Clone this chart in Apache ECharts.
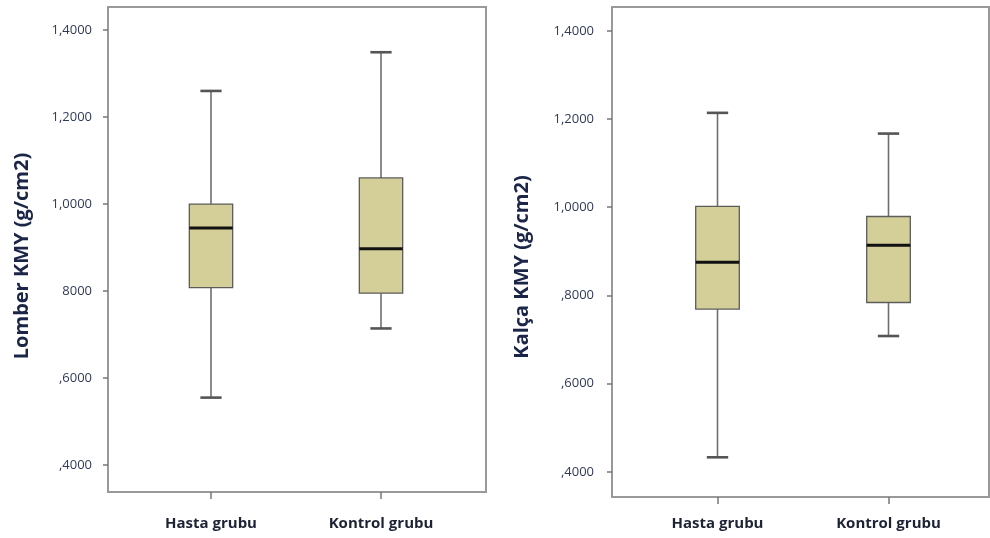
<!DOCTYPE html>
<html>
<head>
<meta charset="utf-8">
<script src="https://cdn.jsdelivr.net/npm/echarts@6/dist/echarts.min.js"></script>
<style>html,body{margin:0;padding:0;background:#fff;}#c{width:990px;height:538px;}</style>
</head>
<body>
<div id="c"></div>
<script>
// ---- data ----
const categories = ['Hasta grubu', 'Kontrol grubu'];
// [min, Q1, median, Q3, max]
const lomberHasta = [0.555, 0.808, 0.945, 1.000, 1.260];
const lomberKontrol = [0.714, 0.795, 0.897, 1.060, 1.349];
const kalcaHasta = [0.433, 0.769, 0.875, 1.002, 1.214];
const kalcaKontrol = [0.708, 0.784, 0.914, 0.979, 1.167];
const tickValues = [0.4, 0.6, 0.8, 1.0, 1.2, 1.4];
const leftTickLabels = [',4000', ',6000', '8000', '1,0000', '1,2000', '1,4000'];
const rightTickLabels = [',4000', ',6000', ',8000', '1,0000', '1,2000', '1,4000'];
const leftTitle = 'Lomber KMY (g/cm2)';
const rightTitle = 'Kalça KMY (g/cm2)';

const chart = echarts.init(document.getElementById('c'), null, {renderer: 'canvas'});
const FONT = 'Open Sans';
const labelColor = '#2f3a56';
const titleColor = '#1b2548';

function renderBox(params, api) {
  const x = api.value(0);
  const bw = api.size([1, 0])[0];
  const boxW = bw * 0.255;
  const capW = bw * 0.125;
  const pMin = api.coord([x, api.value(1)]);
  const pQ1 = api.coord([x, api.value(2)]);
  const pMed = api.coord([x, api.value(3)]);
  const pQ3 = api.coord([x, api.value(4)]);
  const pMax = api.coord([x, api.value(5)]);
  const cx = pMed[0];
  const whisker = {stroke: '#6e6e6e', lineWidth: 1.6};
  const cap = {stroke: '#555', lineWidth: 2.6};
  return {
    type: 'group',
    children: [
      {type: 'line', shape: {x1: cx, y1: pMax[1], x2: cx, y2: pQ3[1]}, style: whisker},
      {type: 'line', shape: {x1: cx, y1: pQ1[1], x2: cx, y2: pMin[1]}, style: whisker},
      {type: 'line', shape: {x1: cx - capW / 2, y1: pMax[1], x2: cx + capW / 2, y2: pMax[1]}, style: cap},
      {type: 'line', shape: {x1: cx - capW / 2, y1: pMin[1], x2: cx + capW / 2, y2: pMin[1]}, style: cap},
      {type: 'rect', shape: {x: cx - boxW / 2, y: pQ3[1], width: boxW, height: pQ1[1] - pQ3[1]},
        style: {fill: '#d4cf99', stroke: '#5c5c5c', lineWidth: 1.3}},
      {type: 'line', shape: {x1: cx - boxW / 2, y1: pMed[1], x2: cx + boxW / 2, y2: pMed[1]},
        style: {stroke: '#111', lineWidth: 3}}
    ]
  };
}

function toData(a, b) {
  return [[0].concat(a), [1].concat(b)];
}

function yAxisDef(gridIndex, min, max, labels, offset, margin, title, nameGap, pad) {
  return {
    type: 'value', gridIndex: gridIndex, min: min, max: max, offset: offset,
    axisLine: {show: false},
    splitLine: {show: false},
    axisTick: {show: true, length: 5, customValues: tickValues, lineStyle: {color: '#777', width: 1.5}},
    axisLabel: {
      customValues: tickValues, margin: margin, color: labelColor, fontFamily: FONT, fontSize: 13,
      formatter: function (v) {
        for (let i = 0; i < tickValues.length; i++) {
          if (Math.abs(tickValues[i] - v) < 1e-6) return labels[i];
        }
        return '';
      }
    },
    name: title, nameLocation: 'middle', nameGap: nameGap,
    nameTextStyle: {color: titleColor, fontFamily: FONT, fontSize: 20, fontWeight: 'bold', padding: pad}
  };
}

function xAxisDef(gridIndex, margin) {
  return {
    type: 'category', gridIndex: gridIndex, data: categories,
    axisLine: {show: false},
    axisTick: {show: true, alignWithLabel: true, length: 7, lineStyle: {color: '#777', width: 1.5}},
    axisLabel: {margin: margin, color: '#1d2335', fontFamily: FONT, fontSize: 15, fontWeight: 'bold'}
  };
}

const hiddenAxis = (type, gi) => ({type: type, gridIndex: gi, show: false});

chart.setOption({
  animation: false,
  backgroundColor: '#fff',
  grid: [
    {left: 108, top: 7, width: 378, height: 485, show: true, borderColor: '#999', borderWidth: 2},
    {left: 126, top: 7, width: 340, height: 485},
    {left: 612, top: 7, width: 377, height: 490, show: true, borderColor: '#999', borderWidth: 2},
    {left: 632, top: 7, width: 342, height: 490}
  ],
  xAxis: [
    hiddenAxis('value', 0),
    xAxisDef(1, 24),
    hiddenAxis('value', 2),
    xAxisDef(3, 19)
  ],
  yAxis: [
    hiddenAxis('value', 0),
    yAxisDef(1, 0.338, 1.453, leftTickLabels, 18, 16, leftTitle, 76, [0, 13, 0, 0]),
    hiddenAxis('value', 2),
    yAxisDef(3, 0.343, 1.454, rightTickLabels, 20, 18, rightTitle, 80, [0, 30, 0, 0])
  ],
  series: [
    {type: 'custom', xAxisIndex: 1, yAxisIndex: 1, renderItem: renderBox,
      encode: {x: 0, y: [1, 2, 3, 4, 5]}, data: toData(lomberHasta, lomberKontrol)},
    {type: 'custom', xAxisIndex: 3, yAxisIndex: 3, renderItem: renderBox,
      encode: {x: 0, y: [1, 2, 3, 4, 5]}, data: toData(kalcaHasta, kalcaKontrol)}
  ]
});
</script>
</body>
</html>
